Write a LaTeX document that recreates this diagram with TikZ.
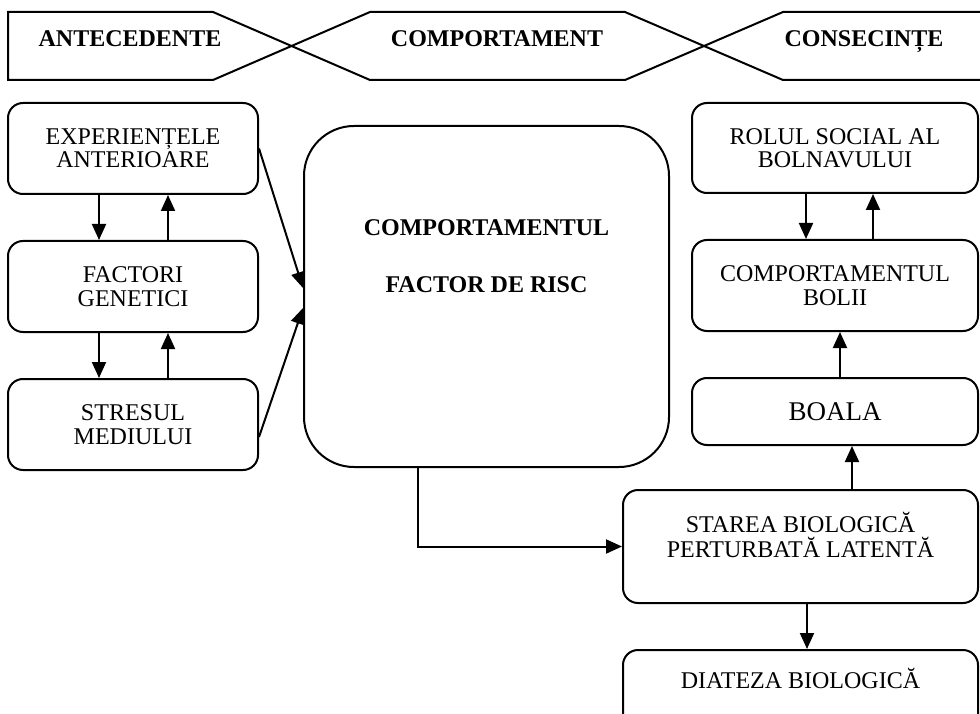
\documentclass[tikz,border=0pt]{standalone}
\usepackage{fontspec}
\setmainfont{Liberation Serif}
\usetikzlibrary{arrows.meta, positioning}

\begin{document}
\begin{tikzpicture}[
    x=1pt, y=-1pt,
    node distance=45pt,
    box/.style={rectangle, draw, rounded corners=15pt, line width=2pt, minimum width=250pt, minimum height=91pt, inner sep=0pt, align=center, font=\fontsize{24}{23.5}\selectfont},
    head/.style={font=\fontsize{24}{24}\selectfont\bfseries, anchor=base},
    band/.style={line width=2pt},
    arrow/.style={-{Triangle[length=16pt, width=14pt]}, line width=2pt}
]
\useasboundingbox (0,0) rectangle (980,714);
\clip (0,0) rectangle (980,714);

% banner
\draw[band] (213,80) -- (8,80) -- (8,12) -- (213,12) -- (370,80) -- (625,80) -- (783,12) -- (990,12);
\draw[band] (213,80) -- (370,12) -- (625,12) -- (783,80) -- (990,80);
\node[head] (ante) at (130,46.5) {ANTECEDENTE};
\node[head] (compt) at (497,46.5) {COMPORTAMENT};
\node[head] (cons) at (864,46.5) {CONSECINȚE};

\node[box] (exp) at (133,148.5) {EXPERIENȚELE\\ANTERIOARE};
\node[box, below=of exp] (gen) {FACTORI\\GENETICI};
\node[box, below=of gen] (stres) {STRESUL\\MEDIULUI};

\node[box, rounded corners=50pt, minimum width=365pt, minimum height=341pt, font=\fontsize{24}{24}\selectfont\bfseries] (risk) at (486.5,296.5) {COMPORTAMENTUL\\[33pt]FACTOR DE RISC\\[57pt]\mbox{}};

\node[box, minimum width=286pt, minimum height=90pt] (rol) at (835,148) {ROLUL SOCIAL AL\\BOLNAVULUI};
\node[box, minimum width=286pt, below=of rol] (cbol) {COMPORTAMENTUL\\BOLII};
\node[box, minimum width=286pt, minimum height=67pt, below=of cbol, font=\fontsize{27}{28}\selectfont] (boala) {BOALA};
\node[box, minimum width=355pt, minimum height=113pt] (starea) at (800.5,546.5) {STAREA BIOLOGICĂ\\[2pt]PERTURBATĂ LATENTĂ\\\mbox{}};
\node[box, minimum width=355pt, minimum height=80pt, below=of starea] (diat) {DIATEZA BIOLOGICĂ\\\mbox{}};

\draw[arrow] ([xshift=-34pt]exp.south) -- ([xshift=-34pt]gen.north);
\draw[arrow] ([xshift=35pt]gen.north) -- ([xshift=35pt]exp.south);
\draw[arrow] ([xshift=-34pt]gen.south) -- ([xshift=-34pt]stres.north);
\draw[arrow] ([xshift=35pt]stres.north) -- ([xshift=35pt]gen.south);
\draw[arrow] (exp.east) -- ([yshift=8.5pt]risk.west);
\draw[arrow] ([yshift=-12.5pt]stres.east) -- ([yshift=-11.5pt]risk.west);
\draw[arrow] ([xshift=-68.5pt]risk.south) |- (starea.west);
\draw[arrow] ([xshift=6.5pt]starea.south) -- ([xshift=6.5pt]diat.north);
\draw[arrow] ([xshift=51.5pt]starea.north) -- ([xshift=17pt]boala.south);
\draw[arrow] ([xshift=5pt]boala.north) -- ([xshift=5pt]cbol.south);
\draw[arrow] ([xshift=-29pt]rol.south) -- ([xshift=-29pt]cbol.north);
\draw[arrow] ([xshift=38pt]cbol.north) -- ([xshift=38pt]rol.south);
\end{tikzpicture}
\end{document}
